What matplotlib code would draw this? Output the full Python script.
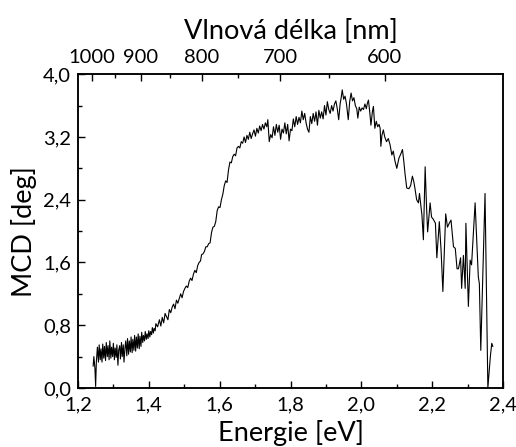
import numpy as np
import matplotlib
matplotlib.use("Agg")
import matplotlib.pyplot as plt
from matplotlib.ticker import FixedLocator, FuncFormatter, MultipleLocator

plt.rcParams['font.family'] = ['Lato', 'DejaVu Sans']

# MCD spectrum, split into spectral ranges: photon energy [eV] / signal [deg]
low_e = [
    1.243, 1.245, 1.248, 1.250, 1.252, 1.255, 1.258, 1.260, 1.263, 1.265,
    1.268, 1.270, 1.273, 1.275, 1.278, 1.280, 1.283, 1.285, 1.288, 1.290,
    1.293, 1.295, 1.298, 1.300, 1.303, 1.305, 1.308, 1.310, 1.313, 1.315,
    1.318, 1.320, 1.323, 1.325, 1.328, 1.330, 1.333, 1.335, 1.338, 1.340,
    1.343, 1.345, 1.348, 1.350, 1.353, 1.355, 1.358, 1.360, 1.363, 1.365,
    1.368, 1.370, 1.373, 1.375, 1.378, 1.380, 1.383, 1.385, 1.388, 1.390,
    1.393, 1.395, 1.398, 1.400, 1.403, 1.405, 1.408, 1.410, 1.413, 1.415,
    1.418, 1.420,
]
low_mcd = [
    0.28, 0.40, 0.25, 0.02, 0.33, 0.52, 0.33, 0.55, 0.36, 0.50,
    0.33, 0.56, 0.38, 0.53, 0.35, 0.58, 0.40, 0.54, 0.36, 0.60,
    0.38, 0.52, 0.40, 0.57, 0.36, 0.51, 0.39, 0.55, 0.29, 0.48,
    0.54, 0.37, 0.58, 0.40, 0.55, 0.33, 0.52, 0.60, 0.41, 0.63,
    0.43, 0.60, 0.46, 0.65, 0.45, 0.62, 0.48, 0.67, 0.47, 0.65,
    0.51, 0.69, 0.50, 0.66, 0.53, 0.71, 0.58, 0.67, 0.60, 0.72,
    0.62, 0.69, 0.63, 0.73, 0.65, 0.72, 0.68, 0.77, 0.70, 0.76,
    0.73, 0.82,
]

rise_e = [
    1.425, 1.430, 1.434, 1.438, 1.442, 1.446, 1.450, 1.454, 1.458, 1.462,
    1.466, 1.470, 1.474, 1.478, 1.482, 1.486, 1.490, 1.494, 1.498, 1.502,
    1.506, 1.510, 1.514, 1.518, 1.522, 1.526, 1.530, 1.534, 1.538, 1.542,
    1.546, 1.549, 1.553, 1.557, 1.561, 1.565, 1.569, 1.573, 1.577, 1.581,
    1.585, 1.589, 1.593, 1.597, 1.601, 1.605, 1.609, 1.613, 1.617, 1.621,
    1.625, 1.629, 1.633, 1.637, 1.641, 1.645, 1.649, 1.653, 1.657, 1.661,
    1.665,
]
rise_mcd = [
    0.78, 0.87, 0.79, 0.90, 0.83, 0.95, 0.91, 0.87, 1.00, 0.96,
    1.03, 1.07, 1.01, 1.12, 1.08, 1.14, 1.20, 1.15, 1.23, 1.27,
    1.30, 1.28, 1.36, 1.40, 1.37, 1.45, 1.50, 1.47, 1.56, 1.60,
    1.62, 1.70, 1.71, 1.74, 1.80, 1.80, 1.84, 1.85, 1.98, 2.05,
    2.06, 2.12, 2.26, 2.31, 2.30, 2.40, 2.47, 2.58, 2.64, 2.62,
    2.78, 2.88, 2.87, 2.95, 2.98, 2.96, 3.06, 3.08, 3.06, 3.14,
    3.12,
]

plateau_e = [
    1.669, 1.673, 1.677, 1.681, 1.685, 1.689, 1.693, 1.697, 1.701, 1.705,
    1.709, 1.713, 1.717, 1.721, 1.725, 1.729, 1.733, 1.736, 1.740, 1.744,
    1.748, 1.752, 1.756, 1.760, 1.764, 1.768, 1.772, 1.776, 1.780, 1.784,
    1.788, 1.792, 1.796, 1.800, 1.804, 1.808, 1.812, 1.816, 1.820, 1.824,
    1.828, 1.832, 1.836, 1.840, 1.844, 1.848, 1.852, 1.856, 1.860, 1.864,
    1.868, 1.872, 1.876, 1.880, 1.884, 1.888, 1.892, 1.896, 1.900, 1.904,
]
plateau_mcd = [
    3.20, 3.13, 3.22, 3.17, 3.26, 3.18, 3.24, 3.29, 3.21, 3.31,
    3.25, 3.34, 3.28, 3.36, 3.30, 3.38, 3.33, 3.42, 3.14, 3.23,
    3.19, 3.33, 3.22, 3.36, 3.26, 3.35, 3.17, 3.30, 3.25, 3.38,
    3.24, 3.36, 3.15, 3.30, 3.28, 3.43, 3.33, 3.46, 3.36, 3.45,
    3.38, 3.53, 3.42, 3.50, 3.38, 3.30, 3.26, 3.46, 3.37, 3.50,
    3.40, 3.52, 3.35, 3.54, 3.44, 3.52, 3.43, 3.60, 3.48, 3.65,
]

peak_e = [
    1.908, 1.912, 1.916, 1.920, 1.924, 1.928, 1.932, 1.936, 1.940, 1.943,
    1.946, 1.950, 1.954, 1.958, 1.963, 1.967, 1.971, 1.975, 1.979, 1.983,
    1.987, 1.990, 1.994, 1.998, 2.002, 2.006, 2.010, 2.014, 2.017, 2.020,
    2.024, 2.027, 2.031, 2.034, 2.038, 2.042, 2.046, 2.050, 2.053, 2.055,
    2.058, 2.062, 2.066, 2.071, 2.076, 2.081, 2.086, 2.090, 2.095, 2.100,
    2.106, 2.111, 2.116, 2.120, 2.123, 2.128, 2.134, 2.139, 2.144, 2.148,
    2.151, 2.156, 2.161,
]
peak_mcd = [
    3.55, 3.50, 3.60, 3.53, 3.62, 3.66, 3.56, 3.42, 3.62, 3.70,
    3.80, 3.68, 3.72, 3.62, 3.42, 3.65, 3.76, 3.66, 3.70, 3.60,
    3.56, 3.44, 3.58, 3.53, 3.57, 3.55, 3.62, 3.56, 3.63, 3.67,
    3.50, 3.35, 3.52, 3.59, 3.31, 3.40, 3.33, 3.36, 3.31, 3.08,
    3.22, 3.29, 3.20, 3.14, 3.18, 3.10, 2.97, 3.02, 2.89, 2.80,
    2.93, 2.98, 3.04, 2.88, 2.74, 2.55, 2.54, 2.58, 2.70, 2.63,
    2.55, 2.40, 2.36,
]

tail_e = [
    2.164, 2.167, 2.171, 2.175, 2.180, 2.184, 2.187, 2.191, 2.194, 2.198,
    2.203, 2.209, 2.213, 2.220, 2.225, 2.230, 2.238, 2.243, 2.248, 2.253,
    2.260, 2.265, 2.270, 2.274, 2.280, 2.283, 2.288, 2.293, 2.295, 2.302,
    2.307, 2.311, 2.321, 2.330, 2.333, 2.337, 2.349, 2.357, 2.364, 2.368,
    2.371,
]
tail_mcd = [
    2.48, 2.36, 2.20, 1.89, 2.82, 2.30, 1.99, 2.20, 2.36, 2.18,
    2.15, 2.10, 1.66, 2.12, 1.75, 1.23, 2.22, 2.05, 2.10, 2.14,
    1.80, 1.78, 1.52, 1.52, 1.66, 1.27, 1.69, 1.27, 2.10, 1.04,
    1.63, 1.57, 2.36, 1.42, 1.33, 0.48, 2.48, 0.00, 0.40, 0.57,
    0.53,
]

energy_ev = low_e + rise_e + plateau_e + peak_e + tail_e
mcd_deg = low_mcd + rise_mcd + plateau_mcd + peak_mcd + tail_mcd
assert len(energy_ev) == len(mcd_deg)

# Wavelength ticks for the top axis [nm]
wl_major = [1000, 900, 800, 700, 600]
wl_minor = [950, 850, 750, 650]
HC = 1239.84  # eV * nm

fig = plt.figure(figsize=(5.16, 4.47), dpi=100)
ax = fig.add_axes([0.151, 0.132, 0.824, 0.702])

ax.plot(energy_ev, mcd_deg, color='black', lw=0.8)

ax.set_xlim(1.2, 2.4)
ax.set_ylim(0.0, 4.0)
ax.xaxis.set_major_locator(MultipleLocator(0.2))
ax.xaxis.set_minor_locator(MultipleLocator(0.1))
ax.yaxis.set_major_locator(MultipleLocator(0.8))
ax.yaxis.set_minor_locator(MultipleLocator(0.4))

comma = FuncFormatter(lambda v, pos: f"{v:.1f}".replace('.', ','))
ax.xaxis.set_major_formatter(comma)
ax.yaxis.set_major_formatter(comma)

ax.tick_params(which='both', direction='in', top=False, right=False,
               labelsize=14.5, width=1.0)
ax.tick_params(which='major', length=5)
ax.tick_params(which='minor', length=3)
ax.tick_params(axis='x', pad=6)
ax.tick_params(axis='y', pad=5)

for sp in ax.spines.values():
    sp.set_linewidth(1.1)

ax.set_xlabel('Energie [eV]', fontsize=19.5, labelpad=5)
ax.set_ylabel('MCD [deg]', fontsize=19.5, labelpad=4)

# Top axis in wavelength units
ax2 = ax.twiny()
ax2.set_xlim(ax.get_xlim())
ax2.xaxis.set_major_locator(FixedLocator([HC / w for w in wl_major]))
ax2.xaxis.set_minor_locator(FixedLocator([HC / w for w in wl_minor]))
ax2.set_xticklabels([str(w) for w in wl_major])
ax2.tick_params(which='both', direction='in', labelsize=14.5, width=1.0, pad=6)
ax2.tick_params(which='major', length=5)
ax2.tick_params(which='minor', length=3)
for sp in ax2.spines.values():
    sp.set_linewidth(1.1)
ax2.set_xlabel('Vlnová délka [nm]', fontsize=19.5, labelpad=7)

fig.savefig('out.png', dpi=100)
